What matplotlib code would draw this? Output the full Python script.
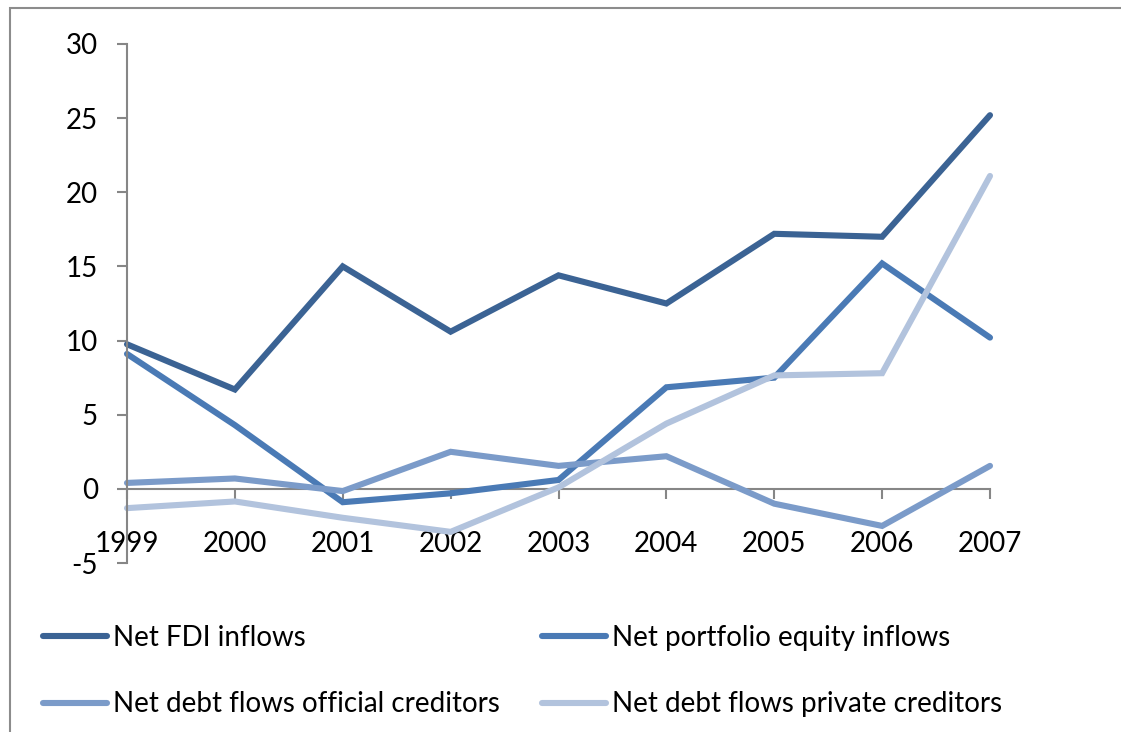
import numpy as np
import matplotlib
matplotlib.use('Agg')
import matplotlib.pyplot as plt
from matplotlib.patches import Rectangle

plt.rcParams['font.family'] = ['Lato', 'DejaVu Sans']
plt.rcParams['axes.unicode_minus'] = False

# ── Données ──
years = ["1999", "2000", "2001", "2002", "2003", "2004", "2005", "2006", "2007"]
fdi = [9.75, 6.7, 15.0, 10.6, 14.4, 12.5, 17.2, 17.0, 25.2]
portfolio = [9.1, 4.3, -0.9, -0.3, 0.6, 6.85, 7.5, 15.2, 10.2]
official = [0.4, 0.7, -0.15, 2.5, 1.55, 2.2, -1.0, -2.5, 1.55]
private = [-1.3, -0.85, -1.95, -2.9, 0.1, 4.4, 7.65, 7.8, 21.1]

series_names = ["Net FDI inflows", "Net portfolio equity inflows",
                "Net debt flows official creditors", "Net debt flows private creditors"]
colors = ["#3B6394", "#4A7AB5", "#7B9BC9", "#B2C3DD"]

W, H = 1121, 732
fig = plt.figure(figsize=(W / 100, H / 100), dpi=100)
ax = fig.add_axes([127 / W, 1 - 563 / H, (990 - 127) / W, (563 - 44) / H])

x = np.arange(len(years))
lines = []
for vals, name, c in zip([fdi, portfolio, official, private], series_names, colors):
    ln, = ax.plot(x, vals, color=c, lw=4.4, label=name, solid_capstyle='round',
                  solid_joinstyle='miter', clip_on=False)
    lines.append(ln)

ax.set_xlim(0, len(years) - 1)
ax.set_ylim(-5, 30)
ax.set_yticks(np.arange(-5, 31, 5))
ax.set_xticks(x)
ax.set_xticklabels(years)

axis_col = "#868686"
for s in ["top", "right"]:
    ax.spines[s].set_visible(False)
ax.spines['bottom'].set_position(('data', 0))
ax.spines['bottom'].set_color(axis_col)
ax.spines['left'].set_color(axis_col)
ax.spines['bottom'].set_linewidth(1.5)
ax.spines['left'].set_linewidth(1.5)
ax.spines['bottom'].set_zorder(1)

ax.tick_params(axis='y', direction='out', length=7, width=1.5, color=axis_col, pad=14, labelsize=20)
ax.tick_params(axis='x', direction='out', length=7, width=1.5, color=axis_col, pad=23, labelsize=20)

# cadre extérieur (coupé à droite et en bas)
fig.add_artist(Rectangle((10 / W, -0.5), 2, 0.5 + 1 - 8 / H, transform=fig.transFigure,
                         fill=False, edgecolor="#8c8c8c", lw=1.5))

# légende remplie ligne par ligne comme dans Excel
order = [0, 2, 1, 3]
fig.legend([lines[i] for i in order], [series_names[i] for i in order],
           loc='upper left', bbox_to_anchor=(32 / W, 1 - 614 / H), ncol=2, frameon=False,
           fontsize=20, handlelength=2.3, handletextpad=0.2, columnspacing=1.55,
           labelspacing=1.45, borderaxespad=0)

fig.savefig("out.png", dpi=100)
